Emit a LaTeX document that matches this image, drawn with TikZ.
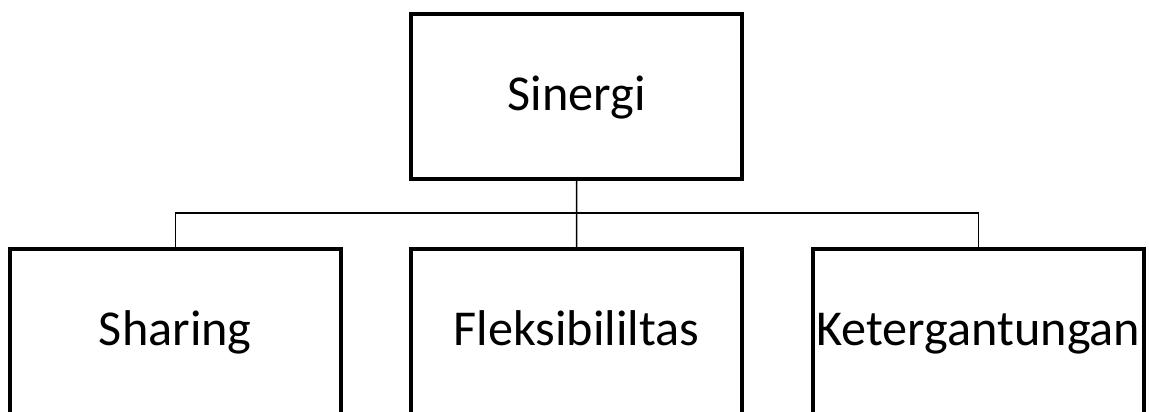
\documentclass[tikz,border=0pt]{standalone}
\usepackage{fontspec}
\setmainfont{Carlito}
\usetikzlibrary{positioning}

\begin{document}
\begin{tikzpicture}[x=0.02cm, y=-0.02cm,
	kotak/.style={draw, line width=0.08cm, minimum width=6.61cm, minimum height=3.3cm,
		inner sep=0pt, outer sep=0pt, text height=18.3pt, text depth=2.5pt,
		font=\fontsize{28.6}{34}\selectfont},
	garis/.style={line width=0.9pt}]
		%%%%% START %%%%%
		\useasboundingbox (0, 0) rectangle (1149, 412);
		
		\node[kotak] (sinergi) at (576.7, 96.5) {Sinergi};
		
		\node[kotak] (sharing) at (175.3, 331.5) {Sharing};
		\node[kotak] (fleksibilitas) at (576.6, 331.5) {Fleksibililtas};
		\node[kotak] (ketergantungan) at (978.3, 331.5) {Ketergantungan};
		
		\coordinate (bus) at (576.7, 213);
		
		\draw[garis] (sinergi.south) -- (fleksibilitas.north);
		\draw[garis] (sharing.north) -- (sharing.north |- bus) -- (ketergantungan.north |- bus) -- (ketergantungan.north);
		%%%%% END %%%%%
\end{tikzpicture}
\end{document}
